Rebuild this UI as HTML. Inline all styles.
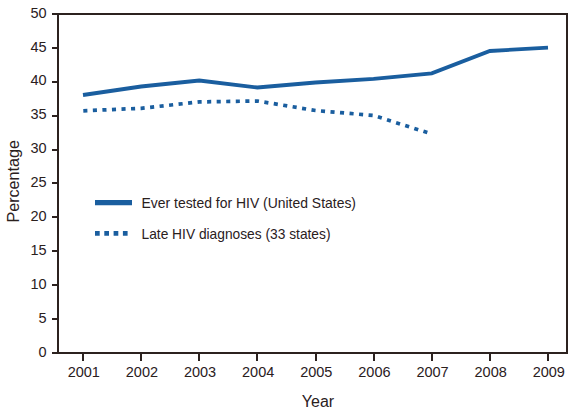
<!DOCTYPE html>
<html><head><meta charset="utf-8">
<style>
html,body{margin:0;padding:0;background:#fff;}
body{width:585px;height:409px;overflow:hidden;}
svg{display:block;}
text{font-family:"Liberation Sans",sans-serif;fill:#2a201d;}
</style></head>
<body>
<svg width="585" height="409" viewBox="0 0 585 409" xmlns="http://www.w3.org/2000/svg">
<g stroke="#2c221f" stroke-width="2" fill="none">
<rect x="58" y="14" width="509" height="339"/>
<path d="M52 14H58M52 48H58M52 82H58M52 116H58M52 150H58M52 183H58M52 217H58M52 251H58M52 285H58M52 319H58M52 353H58"/>
<path d="M83 353V361M141 353V361M199 353V361M257 353V361M316 353V361M374 353V361M432 353V361M490 353V361M548 353V361"/>
</g>
<g font-size="14.5" text-anchor="end">
<text x="46.6" y="17.6">50</text>
<text x="46.6" y="51.5">45</text>
<text x="46.6" y="85.4">40</text>
<text x="46.6" y="119.3">35</text>
<text x="46.6" y="153.2">30</text>
<text x="46.6" y="187.1">25</text>
<text x="46.6" y="221.0">20</text>
<text x="46.6" y="254.9">15</text>
<text x="46.6" y="288.8">10</text>
<text x="46.6" y="322.7">5</text>
<text x="46.6" y="356.6">0</text>
</g>
<g font-size="14.5" text-anchor="middle">
<text x="83.80" y="376.6">2001</text>
<text x="141.93" y="376.6">2002</text>
<text x="200.05" y="376.6">2003</text>
<text x="258.18" y="376.6">2004</text>
<text x="316.30" y="376.6">2005</text>
<text x="374.43" y="376.6">2006</text>
<text x="432.55" y="376.6">2007</text>
<text x="490.68" y="376.6">2008</text>
<text x="548.80" y="376.6">2009</text>
</g>
<text x="318" y="407" font-size="16" text-anchor="middle">Year</text>
<text transform="translate(19.2 181.3) rotate(-90)" font-size="16.8" text-anchor="middle" textLength="82.5" lengthAdjust="spacingAndGlyphs">Percentage</text>
<g stroke="#1a5e9f" stroke-width="3.8" fill="none" stroke-linejoin="miter">
<polyline points="83,95 141.125,86.5 199.25,80.5 257.375,87.5 315.5,82.5 373.625,78.8 431.75,73.3 489.875,51 548,47.7"/>
<polyline stroke-width="3.7" stroke-dasharray="4.1 5.455" stroke-dashoffset="-0.3" points="83,110.8 141.125,108.3 199.25,101.9 257.375,101 315.5,110.5 373.625,115.5 431.75,134"/>
<path d="M95 202.6H132" stroke-width="5.2"/>
<path d="M95 233.4H128" stroke-dasharray="4.7 4.6" stroke-width="4.7"/>
</g>
<g font-size="14.5">
<text x="141.5" y="208" textLength="214.5" lengthAdjust="spacingAndGlyphs">Ever tested for HIV (United States)</text>
<text x="141.5" y="239" textLength="189" lengthAdjust="spacingAndGlyphs">Late HIV diagnoses (33 states)</text>
</g>
</svg>
</body></html>
